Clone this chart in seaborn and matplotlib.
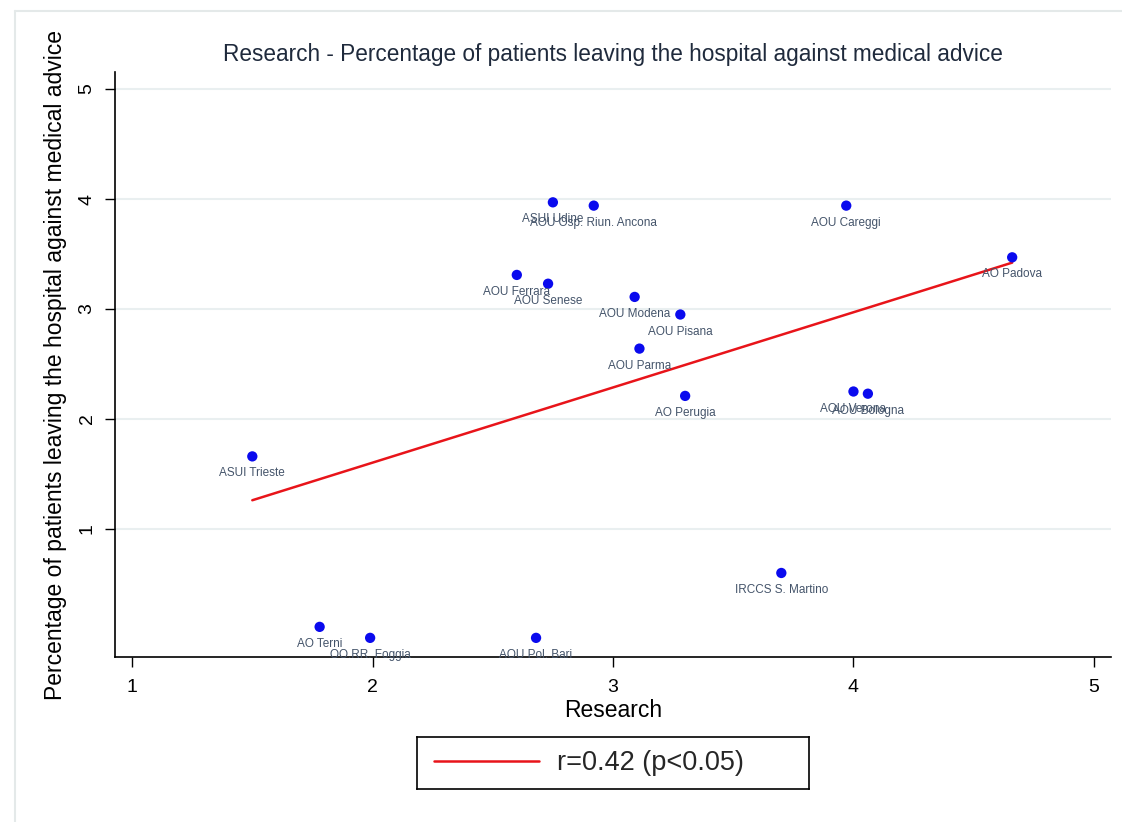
import matplotlib
matplotlib.use("Agg")
import matplotlib.pyplot as plt
from matplotlib.lines import Line2D
import seaborn as sns
import pandas as pd

hospitals = ["ASUI Trieste", "AO Terni", "OO.RR. Foggia", "AOU Pol. Bari", "IRCCS S. Martino",
             "ASUI Udine", "AOU Osp. Riun. Ancona", "AOU Careggi", "AO Padova", "AOU Ferrara",
             "AOU Senese", "AOU Modena", "AOU Pisana", "AOU Parma", "AO Perugia",
             "AOU Verona", "AOU Bologna"]
research = [1.50, 1.78, 1.99, 2.68, 3.70, 2.75, 2.92, 3.97, 4.66, 2.60,
            2.73, 3.09, 3.28, 3.11, 3.30, 4.00, 4.06]
pct_leaving = [1.66, 0.11, 0.01, 0.01, 0.60, 3.97, 3.94, 3.94, 3.47, 3.31,
               3.23, 3.11, 2.95, 2.64, 2.21, 2.25, 2.23]
x_ticks = [1, 2, 3, 4, 5]
y_ticks = [1, 2, 3, 4, 5]
legend_label = "r=0.42 (p<0.05)"

df = pd.DataFrame({"Research": research, "Pct": pct_leaving, "Hospital": hospitals})

sns.set_theme(style="white")
plt.rcParams["font.family"] = ["Liberation Sans", "DejaVu Sans"]

W, H = 1122, 822
fig = plt.figure(figsize=(W / 100, H / 100), dpi=100)
fig.patch.set_facecolor("white")

# faint outer frame
x0, y0 = 15 / W, 1 - 11 / H
fig.add_artist(Line2D([x0, x0], [0, y0], color="#e4e9e9", lw=1.5))
fig.add_artist(Line2D([x0, 1], [y0, y0], color="#e4e9e9", lw=1.5))

ax = fig.add_axes([115 / W, 1 - 657 / H, (1111 - 115) / W, (657 - 72) / H])
ax.set_facecolor("white")

ax.set_xlim(0.929, 5.071)
ax.set_ylim(-0.164, 5.155)
ax.set_yticks(y_ticks)
ax.set_xticks(x_ticks)
for t in y_ticks:
    ax.axhline(t, color="#e9eff0", lw=1.5, zorder=0)

sns.regplot(data=df, x="Research", y="Pct", ax=ax, scatter=False, ci=None,
            truncate=True, color="#e8141a", line_kws={"lw": 1.8, "zorder": 2})
sns.scatterplot(data=df, x="Research", y="Pct", ax=ax, color="#0a0aee",
                s=55, edgecolor="none", zorder=3, legend=False)

for name, xv, yv in zip(hospitals, research, pct_leaving):
    ax.annotate(name, (xv, yv), xytext=(0, -17), textcoords="offset pixels",
                ha="center", va="center", fontsize=8.5, color="#44546a", zorder=4)

for s in ["top", "right"]:
    ax.spines[s].set_visible(False)
for s in ["left", "bottom"]:
    ax.spines[s].set_color("black")
    ax.spines[s].set_linewidth(1.2)

ax.tick_params(axis="both", which="both", direction="out", length=7, width=1,
               color="black", labelsize=14, labelcolor="black", left=True, bottom=True)
ax.tick_params(axis="x", pad=9)
ax.tick_params(axis="y", pad=7)
for lab in ax.get_yticklabels():
    lab.set_rotation(90)
    lab.set_va("center")

ax.set_xlabel("Research", fontsize=16.5, color="black", labelpad=2)
ax.set_ylabel("Percentage of patients leaving the hospital against medical advice",
              fontsize=16.5, color="black", labelpad=8)
ax.set_title("Research - Percentage of patients leaving the hospital against medical advice",
             fontsize=16.3, color="#1f2a3c", pad=8)

# legend box
lax = fig.add_axes([417 / W, 1 - 789 / H, (809 - 417) / W, (789 - 737) / H])
lax.set_xticks([])
lax.set_yticks([])
for s in lax.spines.values():
    s.set_color("black")
    s.set_linewidth(1.2)
    s.set_visible(True)
handle = Line2D([], [], color="#e8141a", lw=1.8)
lax.legend([handle], [legend_label], loc="center left", frameon=False, fontsize=19.5,
           handlelength=3.9, handletextpad=0.65, borderaxespad=0.0,
           bbox_to_anchor=(0.015, 0.5))

fig.savefig("out.png", dpi=100, facecolor="white")
